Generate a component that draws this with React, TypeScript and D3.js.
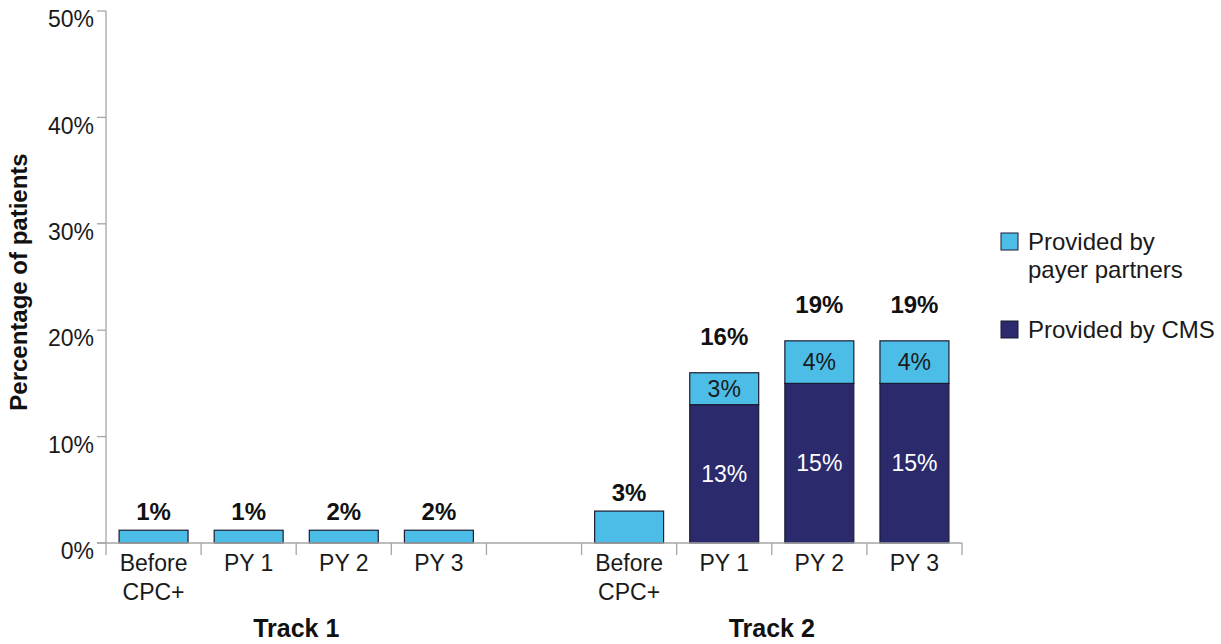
import React from 'react';
import * as d3 from 'd3';

const yTicks = [0, 10, 20, 30, 40, 50];
const periods = ['Before CPC+', 'PY 1', 'PY 2', 'PY 3'];
const tracks = ['Track 1', 'Track 2'];

// percent of patients, by period
const payerTrack1 = [1.2, 1.2, 1.2, 1.2];
const cmsTrack1 = [0, 0, 0, 0];
const totalLabelsTrack1 = ['1%', '1%', '2%', '2%'];

const payerTrack2 = [3, 3, 4, 4];
const cmsTrack2 = [0, 13, 15, 15];
const totalLabelsTrack2 = ['3%', '16%', '19%', '19%'];

const legendItems = [
  { key: 'payer', lines: ['Provided by', 'payer partners'] },
  { key: 'cms', lines: ['Provided by CMS'] },
];

const colors: Record<string, string> = {
  payer: '#4bbde6',
  cms: '#2b2a6c',
};

const FONT = '"Liberation Sans", Arial, Helvetica, sans-serif';
const W = 1221;
const H = 644;
const margin = { top: 11, left: 106, right: 259, bottom: 101 };
const PAD = 0.275;

interface Bar {
  key: string;
  track: number;
  period: string;
  payer: number;
  cms: number;
  label: string;
}

const bars: Bar[] = [
  ...periods.map((p, i) => ({
    key: `t1-${i}`, track: 0, period: p,
    payer: payerTrack1[i], cms: cmsTrack1[i], label: totalLabelsTrack1[i],
  })),
  ...periods.map((p, i) => ({
    key: `t2-${i}`, track: 1, period: p,
    payer: payerTrack2[i], cms: cmsTrack2[i], label: totalLabelsTrack2[i],
  })),
];

const slots = [...bars.slice(0, 4).map(b => b.key), 'gap', ...bars.slice(4).map(b => b.key)];

export default function App() {
  const x = d3.scaleBand<string>()
    .domain(slots)
    .range([margin.left, W - margin.right])
    .paddingInner(PAD)
    .paddingOuter(PAD / 2);
  const y = d3.scaleLinear().domain([0, 50]).range([H - margin.bottom, margin.top]);
  const step = x.step();
  const boundaries = slots.map(s => (x(s) as number) - (step * PAD) / 2);
  boundaries.push(W - margin.right);
  const axisY = y(0);
  const axisColor = '#a6a6a6';

  const trackCenter = (t: number) => {
    const keys = bars.filter(b => b.track === t).map(b => b.key);
    const a = (x(keys[0]) as number) - (step * PAD) / 2;
    const b = (x(keys[keys.length - 1]) as number) + x.bandwidth() + (step * PAD) / 2;
    return (a + b) / 2;
  };

  return (
    <svg width={W} height={H} style={{ position: 'absolute', left: 0, top: 0, background: '#fff' }}
      fontFamily={FONT}>
      {/* y axis */}
      <line x1={margin.left} x2={margin.left} y1={y(50)} y2={axisY} stroke={axisColor} strokeWidth={1.3} />
      {yTicks.map(t => (
        <g key={t}>
          <line x1={margin.left - 9} x2={margin.left} y1={y(t)} y2={y(t)} stroke={axisColor} strokeWidth={1.3} />
          <text x={margin.left - 12} y={y(t) + 8} dy="0.36em" textAnchor="end" fontSize={23} fill="#1a1a1a">
            {t}%
          </text>
        </g>
      ))}
      <text transform={`translate(27,${(y(0) + y(50)) / 2 + 5}) rotate(-90)`} textAnchor="middle"
        fontSize={24} fontWeight="bold" fill="#111">
        Percentage of patients
      </text>

      {/* bars */}
      {bars.map(b => {
        const bx = x(b.key) as number;
        const bw = x.bandwidth();
        const total = b.payer + b.cms;
        const stacked = b.cms > 0;
        return (
          <g key={b.key}>
            {stacked && (
              <rect x={bx} y={y(b.cms)} width={bw} height={axisY - y(b.cms)}
                fill={colors.cms} stroke="#1b1b33" strokeWidth={1.2} />
            )}
            <rect x={bx} y={y(total)} width={bw} height={y(b.cms) - y(total)}
              fill={colors.payer} stroke="#1b1b33" strokeWidth={1.2} />
            {stacked && (
              <>
                <text x={bx + bw / 2} y={(y(total) + y(b.cms)) / 2} dy="0.36em" textAnchor="middle"
                  fontSize={23} fill="#1a1a1a">{b.payer}%</text>
                <text x={bx + bw / 2} y={(y(b.cms) + axisY) / 2} dy="0.36em" textAnchor="middle"
                  fontSize={23} fill="#fff">{b.cms}%</text>
              </>
            )}
            <text x={bx + bw / 2} y={y(total) - (stacked ? 36 : 19)} dy="0.36em" textAnchor="middle"
              fontSize={24} fontWeight="bold" fill="#111">{b.label}</text>
          </g>
        );
      })}

      {/* x axis */}
      <line x1={margin.left - 9} x2={W - margin.right} y1={axisY} y2={axisY} stroke={axisColor} strokeWidth={1.3} />
      {boundaries.map((bx, i) => (
        <line key={i} x1={bx} x2={bx} y1={axisY} y2={axisY + 12} stroke={axisColor} strokeWidth={1.3} />
      ))}
      {bars.map(b => {
        const cx = (x(b.key) as number) + x.bandwidth() / 2;
        const parts = b.period === 'Before CPC+' ? ['Before', 'CPC+'] : [b.period];
        return (
          <text key={b.key} x={cx} y={axisY + 28} textAnchor="middle" fontSize={23} fill="#1a1a1a">
            {parts.map((p, i) => (
              <tspan key={i} x={cx} dy={i === 0 ? 0 : 29}>{p}</tspan>
            ))}
          </text>
        );
      })}
      {tracks.map((t, i) => (
        <text key={t} x={trackCenter(i)} y={637} textAnchor="middle" fontSize={25} fontWeight="bold" fill="#111">
          {t}
        </text>
      ))}

      {/* legend */}
      {legendItems.map((item, i) => {
        const ly = 233 + i * 88;
        return (
          <g key={item.key}>
            <rect x={1001} y={ly} width={17} height={17} fill={colors[item.key]} stroke="#1b1b33" strokeWidth={1} />
            <text x={1028} y={ly + 17} fontSize={24} fill="#1a1a1a">
              {item.lines.map((l, j) => (
                <tspan key={j} x={1028} dy={j === 0 ? 0 : 28}>{l}</tspan>
              ))}
            </text>
          </g>
        );
      })}
    </svg>
  );
}
